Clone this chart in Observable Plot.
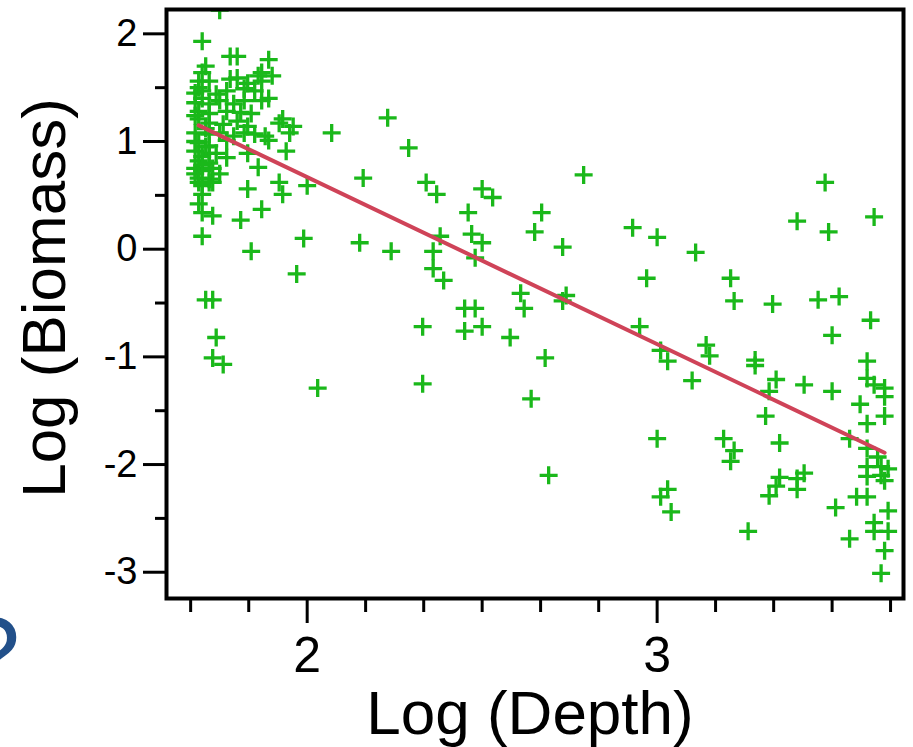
<!DOCTYPE html>
<html>
<head>
<meta charset="utf-8">
<script src="https://cdn.jsdelivr.net/npm/d3@7"></script>
<script src="https://cdn.jsdelivr.net/npm/@observablehq/plot@0.6"></script>
<style>
  html, body { margin: 0; padding: 0; background: #fff; }
  #chart { position: relative; width: 913px; height: 747px; overflow: hidden; }
  #glyph { position: absolute; left: 0; top: 0; pointer-events: none; }
</style>
</head>
<body>
<div id="chart"></div>
<script>
// ---- data ----
const depth = [
  1.75,1.70,1.78,1.80,1.89,1.90,1.71,1.70,1.69,1.72,1.78,1.80,1.83,1.86,1.87,1.87,
  1.68,1.70,1.74,1.77,1.82,1.85,1.68,1.72,1.75,1.79,1.82,1.87,1.89,1.69,1.72,1.77,
  1.81,1.84,1.69,1.72,1.76,1.80,1.83,1.92,1.68,1.72,1.75,1.79,1.82,1.85,1.88,1.89,
  1.69,1.72,1.77,1.68,1.72,1.74,1.83,1.69,1.72,1.77,1.68,1.70,1.73,1.86,1.69,1.72,
  1.75,1.70,1.73,1.70,1.93,1.96,1.95,1.94,1.69,1.72,1.83,1.92,2.00,1.93,1.69,1.70,
  1.73,1.81,1.87,1.70,1.99,1.84,1.97,1.71,1.73,1.74,1.73,1.76,
  1.68,1.68,1.70,1.68,1.71,1.70,1.69,1.71,1.70,
  2.07,2.23,2.29,2.16,2.34,2.37,2.50,2.53,2.46,2.67,2.65,2.73,2.15,2.24,2.38,2.36,
  2.47,2.50,2.48,2.36,2.39,2.61,2.62,2.74,2.73,2.45,2.48,2.33,2.45,2.50,2.58,2.68,
  2.03,2.33,2.64,2.69,
  2.79,3.48,2.93,3.00,3.11,3.40,3.49,3.62,2.97,3.21,3.22,3.33,3.46,3.52,3.61,3.50,
  2.95,3.14,3.15,3.01,3.28,3.60,3.03,3.28,3.10,3.34,3.32,3.42,3.50,3.60,3.62,3.65,
  3.65,3.58,3.60,3.65,3.31,3.00,3.19,3.22,3.21,3.35,3.55,3.60,3.63,3.60,3.64,3.66,
  3.60,3.64,3.65,3.35,3.34,3.40,3.42,3.40,3.32,3.03,3.01,3.04,3.57,3.60,3.51,3.66,
  3.62,3.62,3.66,3.55,3.26,3.65,3.64
];
const biomass = [
  2.22,1.93,1.79,1.79,1.76,1.61,1.70,1.64,1.56,1.56,1.58,1.59,1.54,1.61,1.56,1.64,
  1.45,1.47,1.44,1.47,1.49,1.47,1.36,1.35,1.38,1.35,1.38,1.38,1.40,1.28,1.26,1.28,
  1.27,1.26,1.21,1.17,1.16,1.19,1.14,1.17,1.08,1.07,1.08,1.05,1.08,1.07,1.05,1.01,
  0.99,0.96,1.01,0.91,0.89,0.89,0.89,0.82,0.80,0.85,0.75,0.73,0.75,0.76,0.66,0.65,
  0.70,0.59,0.62,0.51,1.21,1.14,1.08,0.91,0.62,0.62,0.56,0.62,0.59,0.51,0.42,0.34,
  0.31,0.27,0.37,0.12,0.10,-0.02,-0.23,-0.47,-0.47,-0.82,-1.01,-1.07,
  1.24,1.00,0.86,0.70,1.12,1.40,1.50,0.95,0.78,
  1.08,1.22,0.94,0.66,0.62,0.51,0.56,0.48,0.34,0.34,0.16,0.02,0.06,-0.02,0.12,-0.02,
  0.14,0.06,-0.08,-0.18,-0.29,-0.41,-0.55,-0.43,-0.48,-0.55,-0.55,-0.72,-0.76,-0.72,-0.82,-1.01,
  -1.29,-1.25,-1.39,-2.10,
  0.69,0.62,0.20,0.11,-0.03,0.26,0.16,0.30,-0.27,-0.27,-0.48,-0.51,-0.47,-0.44,-0.66,-0.80,
  -0.72,-0.89,-0.99,-0.94,-1.03,-1.04,-1.04,-1.08,-1.22,-1.21,-1.32,-1.26,-1.32,-1.20,-1.26,-1.29,
  -1.37,-1.44,-1.62,-1.55,-1.55,-1.76,-1.76,-1.87,-1.97,-1.80,-1.76,-1.85,-1.93,-2.02,-2.02,-2.04,
  -2.11,-2.10,-2.15,-2.12,-2.20,-2.13,-2.08,-2.23,-2.29,-2.23,-2.30,-2.44,-2.30,-2.30,-2.40,-2.43,
  -2.54,-2.62,-2.62,-2.69,-2.62,-2.80,-3.01
];
const fitDepth = [1.69, 3.65];
const fitBiomass = [1.15, -1.89];

const xMajorTicks = [2, 3];
const xMinorTicks = [1.667, 1.833, 2.167, 2.333, 2.5, 2.667, 2.833, 3.167, 3.333, 3.5, 3.667];
const yMajorTicks = [-3, -2, -1, 0, 1, 2];
const yMinorTicks = [-2.5, -1.5, -0.5, 0.5, 1.5];
const xDomain = [1.598, 3.704];
const yDomain = [-3.244, 2.226];
const xTitle = "Log (Depth)";
const yTitle = "Log (Biomass)";

// ---- build tables ----
const points = depth.map((d, i) => ({depth: d, biomass: biomass[i]}));
const fit = fitDepth.map((d, i) => ({depth: d, biomass: fitBiomass[i]}));

// stroked "+" marker
const plus = {
  draw(ctx, size) {
    const r = Math.sqrt(size / Math.PI);
    ctx.moveTo(-r, 0); ctx.lineTo(r, 0);
    ctx.moveTo(0, -r); ctx.lineTo(0, r);
  }
};

const chart = Plot.plot({
  width: 913,
  height: 747,
  marginLeft: 166,
  marginRight: 10,
  marginTop: 9,
  marginBottom: 149,
  style: {fontFamily: "'Liberation Sans', Arial, Helvetica, sans-serif", background: "white", color: "black"},
  x: {domain: xDomain},
  y: {domain: yDomain},
  marks: [
    Plot.dot(points, {x: "depth", y: "biomass", symbol: plus, r: 9, stroke: "#1ab81a", strokeWidth: 3.3, fill: "none", clip: true}),
    Plot.line(fit, {x: "depth", y: "biomass", stroke: "#cf4358", strokeWidth: 4}),
    Plot.frame({stroke: "black", strokeWidth: 4}),
    Plot.axisY({ticks: yMajorTicks, tickSize: 23, tickPadding: 6, fontSize: 38, strokeWidth: 3, tickFormat: d => String(d), label: null}),
    Plot.axisY({ticks: yMinorTicks, tickSize: 11, strokeWidth: 3, tickFormat: () => "", label: null}),
    Plot.axisX({ticks: xMajorTicks, tickSize: 25, tickPadding: 13, fontSize: 50, strokeWidth: 3, tickFormat: d => String(d), label: null}),
    Plot.axisX({ticks: xMinorTicks, tickSize: 14, strokeWidth: 3, tickFormat: () => "", label: null}),
    Plot.text([xTitle], {frameAnchor: "bottom", dy: 135, dx: -5, fontSize: 62, lineAnchor: "bottom", textAnchor: "middle", fill: "black"}),
    Plot.text([yTitle], {frameAnchor: "left", dx: -102, dy: -6, rotate: -90, fontSize: 62, lineAnchor: "bottom", textAnchor: "middle", fill: "black"})
  ]
});

const holder = document.getElementById("chart");
holder.appendChild(chart);

// cut-off blue glyph at the lower left edge of the reference (overlay)
const overlay = d3.select(holder).append("svg")
  .attr("id", "glyph").attr("width", 913).attr("height", 747);
overlay.append("text")
  .attr("x", 20).attr("y", 690)
  .attr("text-anchor", "end")
  .style("font-size", "104px")
  .style("font-family", "'Liberation Sans', Arial, sans-serif")
  .style("fill", "#22508a")
  .text("?");
</script>
</body>
</html>
